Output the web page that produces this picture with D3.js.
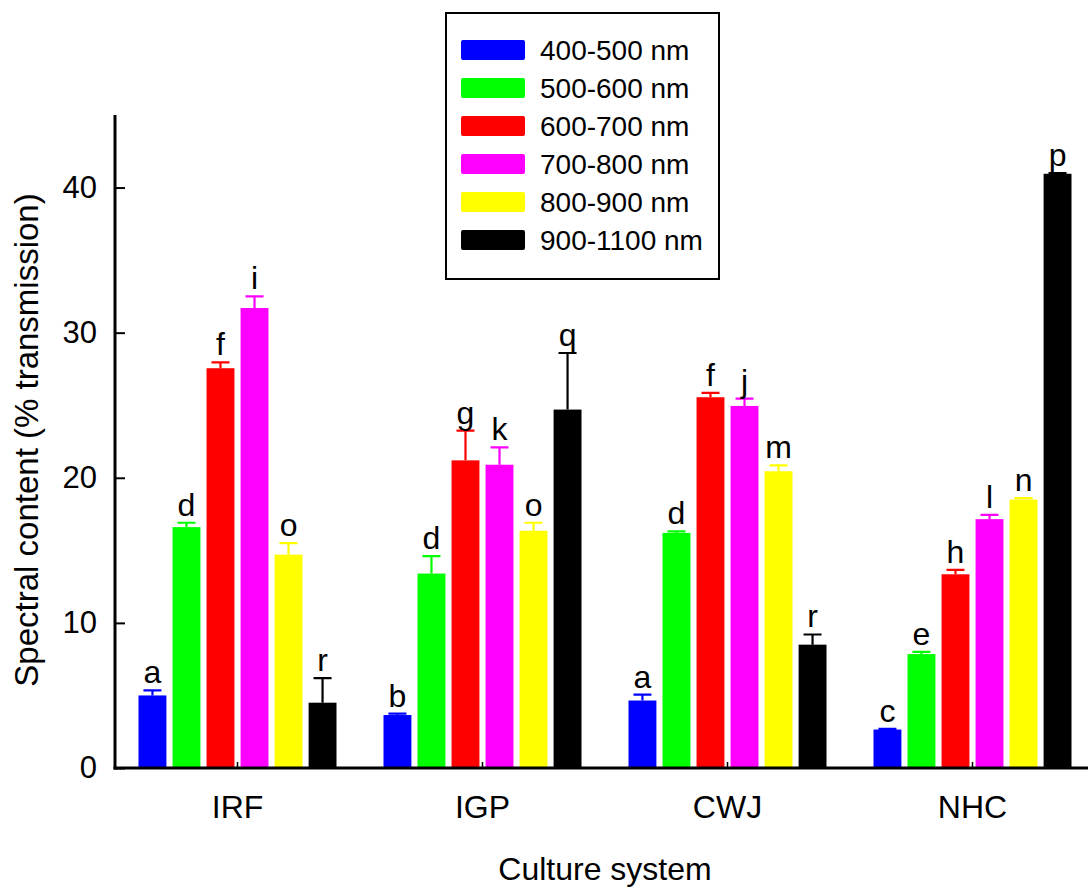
<!DOCTYPE html>
<html>
<head>
<meta charset="utf-8">
<script src="https://cdn.jsdelivr.net/npm/d3@7"></script>
<style>
  body { margin: 0; background: #fff; }
  text { font-family: Arial, "Liberation Sans", sans-serif; fill: #000; }
</style>
</head>
<body>
<div id="vis"></div>
<script>
// data
const systems = ['IRF', 'IGP', 'CWJ', 'NHC'];
const bands = ['400-500 nm', '500-600 nm', '600-700 nm', '700-800 nm', '800-900 nm', '900-1100 nm'];
const colors = ['#0000ff', '#00ff00', '#ff0000', '#ff00ff', '#ffff00', '#000000'];

// mean per band, one array per system
const irfMean = [5.0, 16.6, 27.55, 31.7, 14.7, 4.5];
const igpMean = [3.65, 13.4, 21.2, 20.9, 16.35, 24.7];
const cwjMean = [4.65, 16.2, 25.55, 24.95, 20.45, 8.5];
const nhcMean = [2.65, 7.85, 13.35, 17.15, 18.5, 40.95];

// standard error
const irfErr = [0.35, 0.3, 0.4, 0.8, 0.8, 1.7];
const igpErr = [0.1, 1.2, 2.05, 1.2, 0.55, 3.9];
const cwjErr = [0.4, 0.1, 0.3, 0.5, 0.4, 0.7];
const nhcErr = [0.05, 0.15, 0.3, 0.3, 0.1, 0.05];

// significance letters
const irfLetters = ['a', 'd', 'f', 'i', 'o', 'r'];
const igpLetters = ['b', 'd', 'g', 'k', 'o', 'q'];
const cwjLetters = ['a', 'd', 'f', 'j', 'm', 'r'];
const nhcLetters = ['c', 'e', 'h', 'l', 'n', 'p'];

const yTicks = [0, 10, 20, 30, 40];

const means = [irfMean, igpMean, cwjMean, nhcMean];
const errs = [irfErr, igpErr, cwjErr, nhcErr];
const letters = [irfLetters, igpLetters, cwjLetters, nhcLetters];

let rows = [];
systems.forEach((s, i) => {
    bands.forEach((b, j) => {
        rows.push({system: s, band: b, idx: j, value: means[i][j], err: errs[i][j], letter: letters[i][j]});
    });
});

const W = 1088, H = 889;
const x0 = 115, y0 = 768, yTop = 115;

const svg = d3.select('#vis')
    .append('svg')
    .attr('width', W)
    .attr('height', H);

const xScale = d3.scaleBand()
    .domain(systems)
    .range([x0, x0 + 4 * 245])
    .padding(0);

const inner = d3.scaleBand()
    .domain(bands)
    .range([23.5, 221.5])
    .paddingInner(0.18);

const yScale = d3.scaleLinear()
    .domain([0, 45])
    .range([y0, yTop]);

// bars
const groups = svg.selectAll('.grp')
    .data(systems)
    .join('g')
    .attr('class', 'grp')
    .attr('transform', d => `translate(${xScale(d)},0)`);

groups.selectAll('rect')
    .data(s => rows.filter(r => r.system == s))
    .join('rect')
    .attr('x', d => inner(d.band))
    .attr('y', d => yScale(d.value))
    .attr('width', inner.bandwidth())
    .attr('height', d => y0 - yScale(d.value))
    .style('fill', d => colors[d.idx]);

// error bars (upper only)
const cap = 9;
groups.selectAll('.err')
    .data(s => rows.filter(r => r.system == s))
    .join('path')
    .attr('class', 'err')
    .attr('d', d => {
        const cx = inner(d.band) + inner.bandwidth() / 2;
        const top = yScale(d.value + d.err);
        return `M${cx},${yScale(d.value)}V${top}M${cx - cap},${top}H${cx + cap}`;
    })
    .style('fill', 'none')
    .style('stroke', d => colors[d.idx])
    .style('stroke-width', 2.2);

// letters
groups.selectAll('.lab')
    .data(s => rows.filter(r => r.system == s))
    .join('text')
    .attr('class', 'lab')
    .attr('x', d => inner(d.band) + inner.bandwidth() / 2)
    .attr('y', d => yScale(d.value + d.err) - 7)
    .attr('text-anchor', 'middle')
    .style('font-size', '32px')
    .text(d => d.letter);

// y axis
const yAxis = d3.axisLeft(yScale)
    .tickValues(yTicks)
    .tickSize(-10)
    .tickPadding(18);

const ya = svg.append('g')
    .attr('transform', `translate(${x0},0)`)
    .call(yAxis);
ya.select('.domain').remove();
ya.selectAll('line').style('stroke', '#000').style('stroke-width', 2);
ya.selectAll('text').style('font-size', '31px');

svg.append('line')
    .attr('x1', x0).attr('x2', x0)
    .attr('y1', yTop).attr('y2', y0 + 1.5)
    .style('stroke', '#000').style('stroke-width', 3);

// x axis
const xAxis = d3.axisBottom(xScale)
    .tickSize(-6)
    .tickPadding(27);

const xa = svg.append('g')
    .attr('transform', `translate(0,${y0})`)
    .call(xAxis);
xa.select('.domain').remove();
xa.selectAll('line').style('stroke', '#000').style('stroke-width', 1.5);
xa.selectAll('text').style('font-size', '32px');

svg.append('line')
    .attr('x1', x0 - 1.5).attr('x2', W)
    .attr('y1', y0).attr('y2', y0)
    .style('stroke', '#000').style('stroke-width', 3);

// axis titles
svg.append('text')
    .attr('x', 605)
    .attr('y', 880)
    .attr('text-anchor', 'middle')
    .style('font-size', '32px')
    .text('Culture system');

svg.append('text')
    .attr('transform', 'rotate(-90)')
    .attr('x', -440)
    .attr('y', 38)
    .attr('text-anchor', 'middle')
    .style('font-size', '33px')
    .text('Spectral content (% transmission)');

// legend
const legend = svg.append('g').attr('transform', 'translate(446,13)');
legend.append('rect')
    .attr('width', 273).attr('height', 266)
    .style('fill', '#fff').style('stroke', '#000').style('stroke-width', 2);

const legRow = d3.scaleBand().domain(bands).range([18, 246]);

legend.selectAll('.sw')
    .data(bands)
    .join('rect')
    .attr('class', 'sw')
    .attr('x', 15)
    .attr('y', d => legRow(d) + legRow.bandwidth() / 2 - 10)
    .attr('width', 64).attr('height', 20)
    .attr('rx', 2)
    .style('fill', (d, i) => colors[i]);

legend.selectAll('.lt')
    .data(bands)
    .join('text')
    .attr('class', 'lt')
    .attr('x', 94)
    .attr('y', d => legRow(d) + legRow.bandwidth() / 2)
    .attr('dy', '0.36em')
    .style('font-size', '28px')
    .text(d => d);
</script>
</body>
</html>
